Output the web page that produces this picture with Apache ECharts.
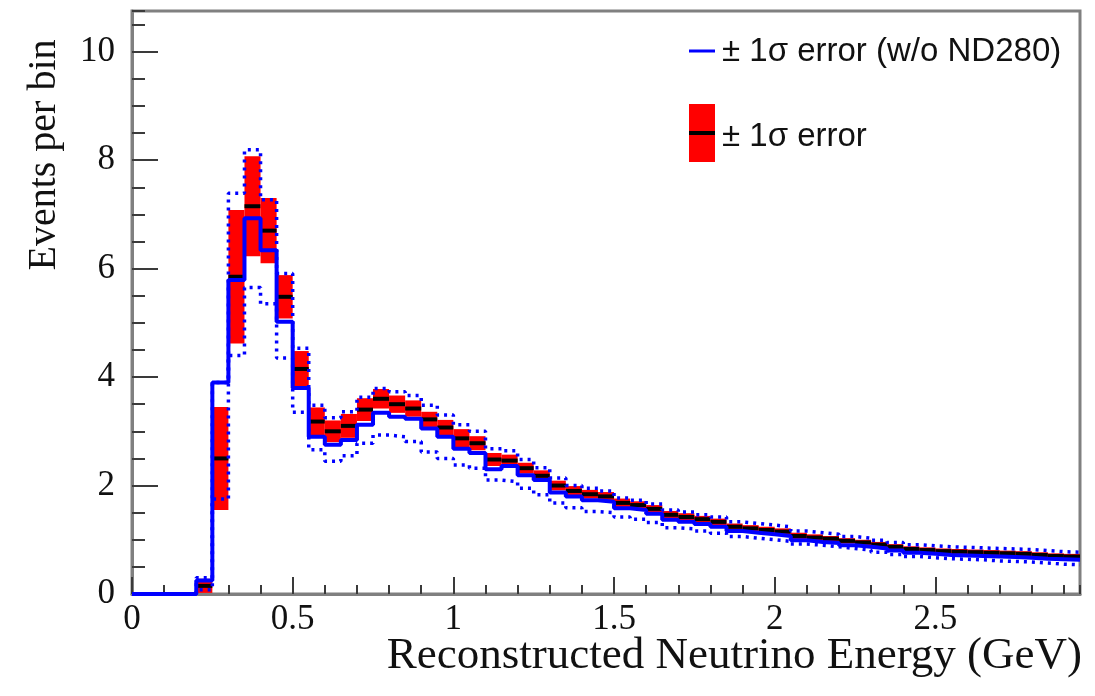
<!DOCTYPE html>
<html>
<head>
<meta charset="utf-8">
<title>Reconstructed Neutrino Energy</title>
<script src="https://cdn.jsdelivr.net/npm/echarts@6/dist/echarts.min.js"></script>
<style>
  html, body { margin: 0; padding: 0; background: #ffffff; }
  #chart { width: 1095px; height: 696px; }
</style>
</head>
<body>
<div id="chart"></div>
<script>
// Bin edges of the energy histogram (GeV)
const binEdges = [
  0.00, 0.05, 0.10, 0.15, 0.20, 0.25, 0.30, 0.35, 0.40, 0.45,
  0.50, 0.55, 0.60, 0.65, 0.70, 0.75, 0.80, 0.85, 0.90, 0.95,
  1.00, 1.05, 1.10, 1.15, 1.20, 1.25, 1.30, 1.35, 1.40, 1.45,
  1.50, 1.55, 1.60, 1.65, 1.70, 1.75, 1.80, 1.85, 1.90, 1.95,
  2.00, 2.05, 2.10, 2.15, 2.20, 2.25, 2.30, 2.35, 2.40, 2.45,
  2.50, 2.55, 2.60, 2.65, 2.70, 2.75, 2.80, 2.85, 2.90, 2.95
];

// Central prediction per bin (black line)
const central = [
  0, 0, 0, 0, 0.15, 2.50, 5.85, 7.15, 6.70, 5.48,
  4.15, 3.18, 3.00, 3.10, 3.40, 3.60, 3.50, 3.42, 3.22, 3.07,
  2.87, 2.78, 2.48, 2.46, 2.32, 2.18, 2.00, 1.90, 1.84, 1.80,
  1.68, 1.64, 1.57, 1.46, 1.42, 1.38, 1.33, 1.24, 1.21, 1.18,
  1.15, 1.07, 1.04, 1.02, 0.98, 0.95, 0.91, 0.87, 0.83, 0.81,
  0.79, 0.78, 0.77, 0.76, 0.75, 0.74, 0.72, 0.70, 0.69
];

// ±1σ error with ND280 constraint (red box half-height)
const errND280 = [
  0, 0, 0, 0, 0.13, 0.95, 1.23, 0.92, 0.60, 0.40,
  0.33, 0.26, 0.20, 0.22, 0.21, 0.18, 0.16, 0.15, 0.14, 0.14,
  0.17, 0.13, 0.12, 0.11, 0.10, 0.10, 0.09, 0.09, 0.08, 0.08,
  0.08, 0.07, 0.07, 0.07, 0.07, 0.06, 0.06, 0.06, 0.06, 0.06,
  0.06, 0.06, 0.06, 0.05, 0.05, 0.05, 0.05, 0.05, 0.05, 0.05,
  0.05, 0.05, 0.05, 0.05, 0.05, 0.05, 0.05, 0.05, 0.05
];

// Prediction without ND280 (solid blue)
const noND280 = [
  0, 0, 0, 0, 0.25, 3.90, 5.79, 6.93, 6.34, 5.02,
  3.80, 2.90, 2.75, 2.84, 3.12, 3.34, 3.27, 3.23, 3.05, 2.90,
  2.68, 2.60, 2.30, 2.36, 2.19, 2.10, 1.87, 1.80, 1.73, 1.70,
  1.58, 1.55, 1.48, 1.37, 1.33, 1.29, 1.24, 1.16, 1.13, 1.10,
  1.07, 0.99, 0.96, 0.94, 0.90, 0.87, 0.84, 0.80, 0.76, 0.74,
  0.72, 0.71, 0.70, 0.69, 0.68, 0.67, 0.65, 0.64, 0.63
];

// +1σ without ND280 (dotted blue, upper)
const noND280Up = [
  0, 0, 0, 0, 0.30, 3.90, 7.39, 8.19, 7.27, 5.91,
  4.53, 3.48, 3.25, 3.36, 3.63, 3.79, 3.73, 3.66, 3.48, 3.30,
  3.12, 3.00, 2.68, 2.64, 2.48, 2.33, 2.14, 2.00, 1.95, 1.90,
  1.77, 1.73, 1.66, 1.55, 1.51, 1.46, 1.42, 1.33, 1.30, 1.27,
  1.24, 1.16, 1.13, 1.10, 1.06, 1.03, 0.99, 0.95, 0.91, 0.89,
  0.87, 0.86, 0.85, 0.84, 0.83, 0.82, 0.80, 0.78, 0.77
];

// -1σ without ND280 (dotted blue, lower)
const noND280Down = [
  0, 0, 0, 0, 0.08, 1.75, 4.40, 5.65, 5.35, 4.35,
  3.35, 2.66, 2.45, 2.55, 2.78, 2.93, 2.90, 2.81, 2.62, 2.50,
  2.38, 2.32, 2.10, 2.07, 1.95, 1.83, 1.68, 1.59, 1.52, 1.50,
  1.42, 1.38, 1.32, 1.22, 1.20, 1.16, 1.12, 1.06, 1.03, 1.00,
  0.97, 0.92, 0.90, 0.87, 0.84, 0.81, 0.77, 0.73, 0.69, 0.67,
  0.65, 0.64, 0.63, 0.61, 0.60, 0.59, 0.57, 0.55, 0.54
];

const xTitle = 'Reconstructed Neutrino Energy (GeV)';
const yTitle = 'Events per bin';
const legendLabels = ['\u00b1 1\u03c3 error (w/o ND280)', '\u00b1 1\u03c3 error'];

// Histogram outline: each bin contributes its two corners
function stepPoints(values) {
  const pts = [];
  values.forEach((v, i) => {
    pts.push([binEdges[i], v]);
    pts.push([binEdges[i + 1], v]);
  });
  return pts;
}

const boxData = central.map((c, i) => [binEdges[i], binEdges[i + 1], c, errND280[i]]);

const serif = 'Liberation Serif';
const sans = 'Liberation Sans';
const frameColor = '#808080';
const tickColor = '#3a3a3a';

const chart = echarts.init(document.getElementById('chart'), null, { renderer: 'canvas' });

chart.setOption({
  animation: false,
  backgroundColor: '#ffffff',
  grid: {
    left: 132, right: 15, top: 11, bottom: 102,
    show: true, borderColor: frameColor, borderWidth: 3, backgroundColor: 'transparent'
  },
  xAxis: [
    {
      type: 'value', min: 0, max: 2.95, interval: 0.5, position: 'bottom',
      axisLine: { show: true, onZero: false, lineStyle: { color: frameColor, width: 3 } },
      axisTick: { show: true, inside: true, length: 17, lineStyle: { color: tickColor, width: 2 } },
      axisLabel: {
        show: true, margin: 8, showMaxLabel: false,
        fontFamily: serif, fontSize: 35, color: '#111111'
      },
      splitLine: { show: false }
    },
    {
      type: 'value', min: 0, max: 2.95, interval: 0.1, position: 'bottom',
      axisLine: { show: false },
      axisTick: { show: true, inside: true, length: 9, lineStyle: { color: tickColor, width: 2 } },
      axisLabel: { show: false },
      splitLine: { show: false }
    }
  ],
  yAxis: [
    {
      type: 'value', min: 0, max: 10.75, interval: 2, position: 'left',
      axisLine: { show: true, onZero: false, lineStyle: { color: frameColor, width: 3 } },
      axisTick: { show: true, inside: true, length: 26, lineStyle: { color: tickColor, width: 2 } },
      axisLabel: {
        show: true, margin: 17, showMaxLabel: false,
        fontFamily: serif, fontSize: 35, color: '#111111'
      },
      splitLine: { show: false }
    },
    {
      type: 'value', min: 0, max: 10.75, interval: 0.5, position: 'left',
      axisLine: { show: false },
      axisTick: { show: true, inside: true, length: 13, lineStyle: { color: tickColor, width: 2 } },
      axisLabel: { show: false },
      splitLine: { show: false }
    }
  ],
  series: [
    {
      name: legendLabels[1],
      type: 'custom',
      xAxisIndex: 0, yAxisIndex: 0,
      clip: true,
      encode: { x: [0, 1], y: [2] },
      data: boxData,
      renderItem: function (params, api) {
        const lo = api.value(0), hi = api.value(1), c = api.value(2), e = api.value(3);
        if (c <= 0 && e <= 0) return null;
        const tl = api.coord([lo, c + e]);
        const br = api.coord([hi, c - e]);
        const ml = api.coord([lo, c]);
        const mr = api.coord([hi, c]);
        return {
          type: 'group',
          children: [
            {
              type: 'rect',
              shape: { x: tl[0], y: tl[1], width: br[0] - tl[0], height: br[1] - tl[1] },
              style: { fill: '#ff0000' }
            },
            {
              type: 'line',
              shape: { x1: ml[0], y1: ml[1], x2: mr[0], y2: mr[1] },
              style: { stroke: '#000000', lineWidth: 4 }
            }
          ]
        };
      },
      z: 2
    },
    {
      name: legendLabels[0],
      type: 'line',
      xAxisIndex: 0, yAxisIndex: 0,
      data: stepPoints(noND280),
      showSymbol: false, symbol: 'none',
      lineStyle: { color: '#0000ff', width: 4 },
      z: 3
    },
    {
      name: 'upper',
      type: 'line',
      xAxisIndex: 0, yAxisIndex: 0,
      data: stepPoints(noND280Up),
      showSymbol: false, symbol: 'none',
      lineStyle: { color: '#0000ff', width: 3.5, type: [3, 5] },
      z: 4
    },
    {
      name: 'lower',
      type: 'line',
      xAxisIndex: 0, yAxisIndex: 0,
      data: stepPoints(noND280Down),
      showSymbol: false, symbol: 'none',
      lineStyle: { color: '#0000ff', width: 3.5, type: [3, 5] },
      z: 4
    }
  ],
  graphic: [
    {
      type: 'text', x: 1082, y: 656,
      style: { text: xTitle, font: '45px "' + serif + '"', fill: '#111111', align: 'right', verticalAlign: 'middle' }
    },
    {
      type: 'text', x: 44, y: 155, rotation: Math.PI / 2,
      style: { text: yTitle, font: '40px "' + serif + '"', fill: '#111111', align: 'center', verticalAlign: 'middle' }
    },
    {
      type: 'line', shape: { x1: 689, y1: 51, x2: 715, y2: 51 },
      style: { stroke: '#0000ff', lineWidth: 3 }
    },
    {
      type: 'text', x: 722, y: 52,
      style: { text: legendLabels[0], font: '33px "' + sans + '"', fill: '#111111', align: 'left', verticalAlign: 'middle' }
    },
    {
      type: 'rect', shape: { x: 689, y: 104, width: 26, height: 58 },
      style: { fill: '#ff0000' }
    },
    {
      type: 'line', shape: { x1: 689, y1: 133, x2: 715, y2: 133 },
      style: { stroke: '#000000', lineWidth: 4 }
    },
    {
      type: 'text', x: 722, y: 137,
      style: { text: legendLabels[1], font: '33px "' + sans + '"', fill: '#111111', align: 'left', verticalAlign: 'middle' }
    }
  ]
});
</script>
</body>
</html>
